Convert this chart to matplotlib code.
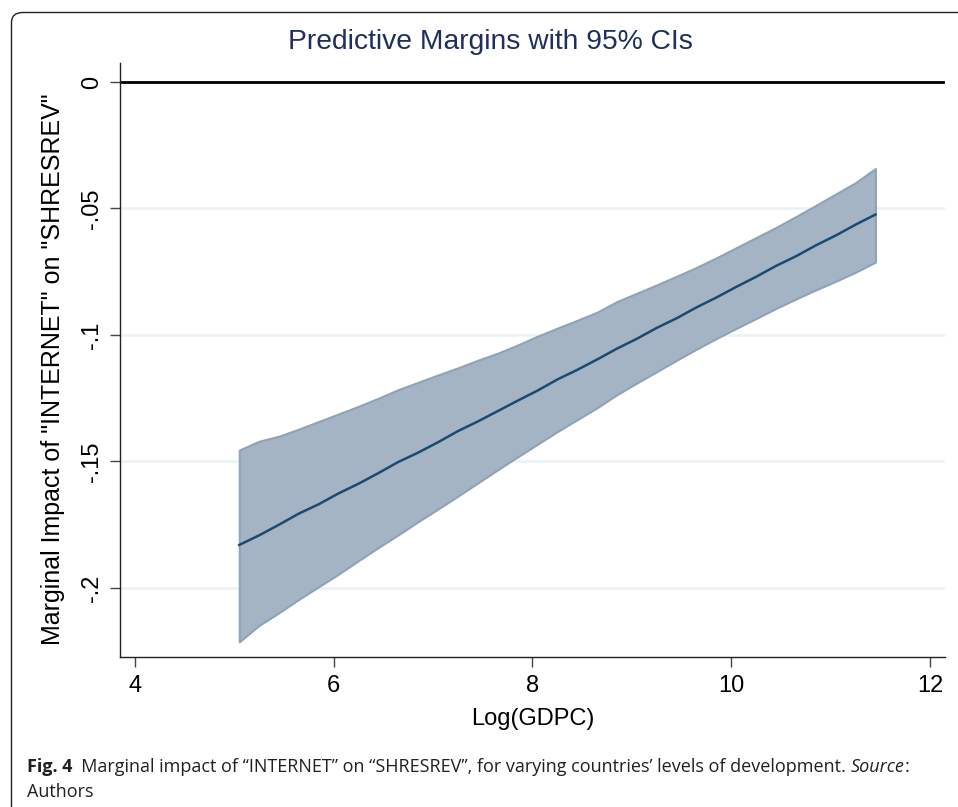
import matplotlib
matplotlib.use("Agg")
import matplotlib.pyplot as plt
from matplotlib.patches import FancyBboxPatch

# Log(GDPC) grid at which the margins were evaluated
gdpc = [5.05, 5.25, 5.45, 5.65, 5.85, 6.05, 6.25, 6.45, 6.65, 6.85, 7.05,
        7.25, 7.45, 7.65, 7.85, 8.05, 8.25, 8.45, 8.65, 8.85, 9.05, 9.25,
        9.45, 9.65, 9.85, 10.05, 10.25, 10.45, 10.65, 10.85, 11.05, 11.25, 11.45]

# marginal impact (point estimate)
margin = [-0.1830, -0.1792, -0.1750, -0.1706, -0.1669, -0.1626, -0.1588,
          -0.1546, -0.1502, -0.1465, -0.1424, -0.1380, -0.1342, -0.1301,
          -0.1260, -0.1220, -0.1176, -0.1138, -0.1097, -0.1054, -0.1015,
          -0.0972, -0.0934, -0.0891, -0.0852, -0.0810, -0.0770, -0.0727,
          -0.0689, -0.0646, -0.0607, -0.0564, -0.0524]

# 95% CI bounds
ci_hi = [-0.1455, -0.1420, -0.1400, -0.1372, -0.1342, -0.1312, -0.1282,
         -0.1250, -0.1216, -0.1187, -0.1158, -0.1130, -0.1100, -0.1072,
         -0.1040, -0.1005, -0.0973, -0.0942, -0.0910, -0.0868, -0.0835,
         -0.0802, -0.0768, -0.0733, -0.0695, -0.0655, -0.0615, -0.0575,
         -0.0532, -0.0488, -0.0443, -0.0398, -0.0342]
ci_lo = [-0.2213, -0.2148, -0.2098, -0.2045, -0.1995, -0.1945, -0.1892,
         -0.1840, -0.1790, -0.1738, -0.1688, -0.1637, -0.1585, -0.1533,
         -0.1482, -0.1432, -0.1382, -0.1335, -0.1288, -0.1236, -0.1190,
         -0.1145, -0.1100, -0.1056, -0.1014, -0.0974, -0.0935, -0.0895,
         -0.0858, -0.0822, -0.0788, -0.0752, -0.0712]

xticks = [4, 6, 8, 10, 12]
yticks = [0, -0.05, -0.1, -0.15, -0.2]
ytick_labels = ["0", "-.05", "-.1", "-.15", "-.2"]

W, H = 958, 807
plt.rcParams['font.family'] = ['Liberation Sans', 'DejaVu Sans']

fig = plt.figure(figsize=(W / 100, H / 100), dpi=100)
ax = fig.add_axes([120 / W, 1 - 657 / H, 825 / W, 594 / H])

# grid lines (not at zero, that one is the reference line)
for yv in yticks[1:]:
    ax.axhline(yv, color='#eaf2f3', lw=1.8, zorder=0)
ax.axhline(0, color='black', lw=2, zorder=1)

ax.fill_between(gdpc, ci_lo, ci_hi, facecolor='#a4b4c4', edgecolor='#8fa3b7',
                lw=1.5, zorder=2)
ax.plot(gdpc, margin, color='#1a4a72', lw=1.8, zorder=3)

ax.set_xlim(3.85, 12.15)
ax.set_ylim(-0.2273, 0.0075)
ax.set_xticks(xticks)
ax.set_yticks(yticks)
ax.set_yticklabels(ytick_labels, rotation=90, va='center')
ax.tick_params(axis='both', labelsize=17, length=7, width=1, color='#444444',
               pad=6)
ax.tick_params(axis='y', pad=5)
for s in ['top', 'right']:
    ax.spines[s].set_visible(False)
for s in ['left', 'bottom']:
    ax.spines[s].set_linewidth(1)
    ax.spines[s].set_color('#222222')

ax.set_xlabel('Log(GDPC)', fontsize=17, labelpad=8)
ax.set_ylabel('Marginal Impact of "INTERNET" on "SHRESREV"', fontsize=18)
ax.yaxis.set_label_coords(-0.067, 0.484)

fig.text(490 / W, 1 - 42 / H, 'Predictive Margins with 95% CIs', fontsize=20.3,
         color='#1e2f5c', ha='center', va='center')

# rounded frame, partly running off the page
frame = FancyBboxPatch((11.5 / W, -0.2), 1.2, 1.2 - 12.5 / H,
                       boxstyle='round,pad=0,rounding_size=0.012',
                       transform=fig.transFigure, fill=False,
                       edgecolor='#222222', lw=1.0)
fig.patches.append(frame)

# caption, built piece by piece
cap_font = ['Open Sans', 'DejaVu Sans']
pieces = [('Fig. 4', 'bold', 'normal'),
          ('  Marginal impact of \u201cINTERNET\u201d on \u201cSHRESREV\u201d, for varying countries\u2019 levels of development. ', 'normal', 'normal'),
          ('Source', 'normal', 'italic'),
          (':', 'normal', 'normal')]
renderer = fig.canvas.get_renderer()
xpos = 27
for txt, weight, style in pieces:
    t = fig.text(xpos / W, 1 - 767 / H, txt, fontsize=13, family=cap_font,
                 weight=weight, style=style, color='#231f20', va='center')
    xpos += t.get_window_extent(renderer).width
fig.text(27 / W, 1 - 792 / H, 'Authors', fontsize=13, family=cap_font,
         color='#231f20', va='center')

fig.savefig('out.png', dpi=100)
